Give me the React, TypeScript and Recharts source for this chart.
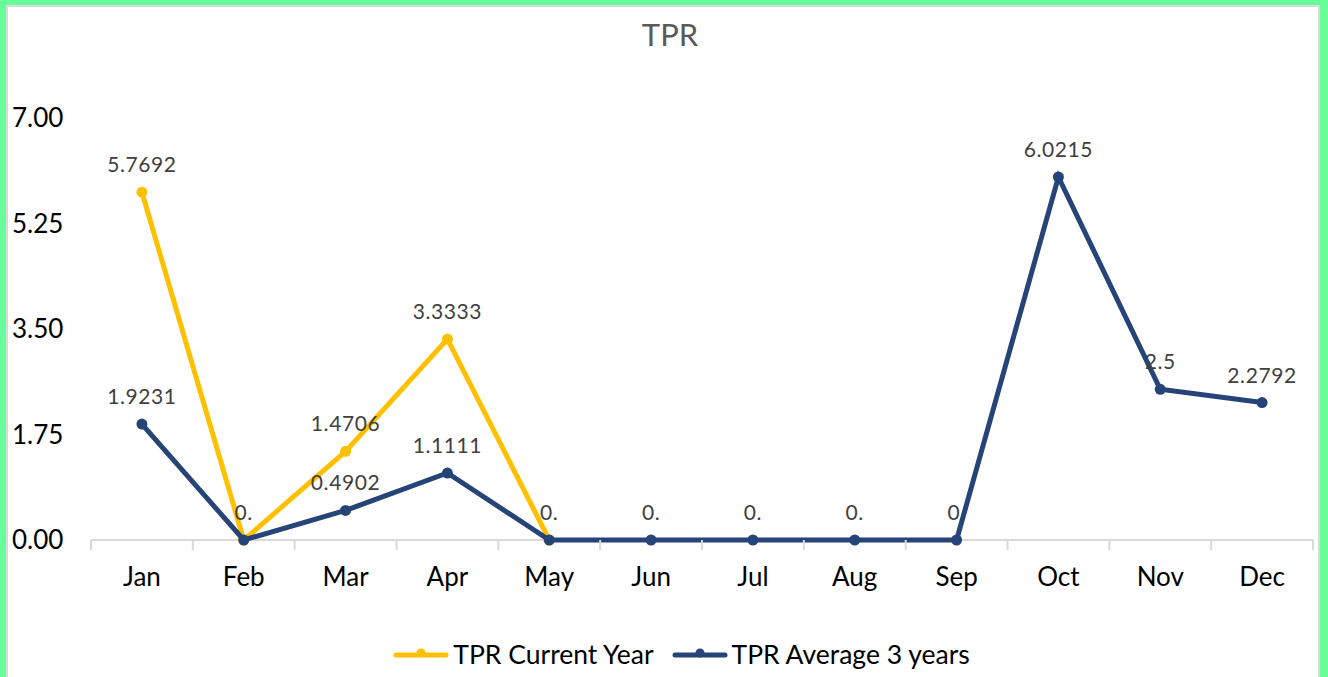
import { LineChart, Line, XAxis, YAxis, Legend, LabelList } from 'recharts';

const months = ['Jan', 'Feb', 'Mar', 'Apr', 'May', 'Jun', 'Jul', 'Aug', 'Sep', 'Oct', 'Nov', 'Dec'];
const currentYear: (number | null)[] = [5.7692, 0, 1.4706, 3.3333, 0, null, null, null, null, null, null, null];
const average3Years = [1.9231, 0, 0.4902, 1.1111, 0, 0, 0, 0, 0, 6.0215, 2.5, 2.2792];
const yTicks = [0, 1.75, 3.5, 5.25, 7];

const data = months.map((m, i) => ({ month: m, current: currentYear[i], average: average3Years[i] }));

const FONT = 'Lato, sans-serif';
const YELLOW = '#FFC000';
const BLUE = '#264478';
const W = 1328;
const H = 677;
const M = { top: 118, right: 15, bottom: 2, left: 11 };
const STEP = (W - M.left - M.right - 80) / months.length;

function fmt(v: any) {
  if (v === null || v === undefined) return '';
  return v === 0 ? '0.' : String(v);
}

// zero labels of the current year sit under the average's, so skip them
function fmtCurrent(v: any) {
  if (v === null || v === undefined || v === 0) return '';
  return String(v);
}

function XTick(props: any) {
  const { x, y, payload, index } = props;
  return (
    <g>
      <line x1={x - STEP / 2} y1={y - 8} x2={x - STEP / 2} y2={y + 2} stroke="#d9d9d9" strokeWidth={2} />
      {index === months.length - 1 && (
        <line x1={x + STEP / 2} y1={y - 8} x2={x + STEP / 2} y2={y + 2} stroke="#d9d9d9" strokeWidth={2} />
      )}
      <text x={x} y={y + 38} textAnchor="middle" fontSize={26} fill="#000" fontFamily={FONT}>
        {payload.value}
      </text>
    </g>
  );
}

function YTick(props: any) {
  const { y, payload } = props;
  return (
    <text x={12} y={y + 9} textAnchor="start" fontSize={26} fill="#000" fontFamily={FONT}>
      {payload.value.toFixed(2)}
    </text>
  );
}

function LegendContent() {
  const items = [
    { label: 'TPR Current Year', color: YELLOW },
    { label: 'TPR Average 3 years', color: BLUE },
  ];
  return (
    <div style={{ display: 'flex', justifyContent: 'center', gap: 18, fontFamily: FONT, fontSize: 26.5, color: '#000', paddingLeft: 39 }}>
      {items.map((it) => (
        <div key={it.label} style={{ display: 'flex', alignItems: 'center' }}>
          <svg width={56} height={14} style={{ marginRight: 4 }}>
            <line x1={3} y1={8} x2={53} y2={8} stroke={it.color} strokeWidth={5} strokeLinecap="round" />
            <circle cx={28} cy={6} r={4.5} fill={it.color} />
          </svg>
          <span>{it.label}</span>
        </div>
      ))}
    </div>
  );
}

export default function App() {
  return (
    <div style={{ position: 'fixed', left: 0, top: 0, width: W, height: H, background: '#66FF99', overflow: 'hidden' }}>
      <div
        style={{
          position: 'absolute',
          left: 6,
          top: 5,
          width: 1310,
          height: 690,
          background: '#fff',
          border: '2px solid #d9d9d9',
        }}
      />
      <div
        style={{
          position: 'absolute',
          left: 0,
          top: 15,
          width: W,
          paddingLeft: 6,
          textAlign: 'center',
          fontFamily: FONT,
          fontSize: 31,
          color: '#595959',
        }}
      >
        TPR
      </div>
      <div style={{ position: 'absolute', left: 0, top: 0 }}>
        <LineChart width={W} height={H} data={data} margin={M}>
          <XAxis
            dataKey="month"
            padding={{ left: STEP / 2, right: STEP / 2 }}
            axisLine={{ stroke: '#d9d9d9', strokeWidth: 2 }}
            tickLine={false}
            tick={<XTick />}
            height={98}
            interval={0}
          />
          <YAxis
            domain={[0, 7]}
            ticks={yTicks}
            axisLine={false}
            tickLine={false}
            tick={<YTick />}
            width={80}
          />
          <Legend verticalAlign="bottom" content={<LegendContent />} wrapperStyle={{ height: 37 }} />
          <Line
            type="linear"
            dataKey="current"
            stroke={YELLOW}
            strokeWidth={5}
            dot={{ r: 5.5, fill: YELLOW, stroke: YELLOW, strokeWidth: 0 }}
            isAnimationActive={false}
            zIndex={600}
          >
            <LabelList dataKey="current" position="top" offset={20} formatter={fmtCurrent} fontSize={21} letterSpacing={0.6} fill="#404040" fontFamily={FONT} />
          </Line>
          <Line
            type="linear"
            dataKey="average"
            stroke={BLUE}
            strokeWidth={5}
            dot={{ r: 5.5, fill: BLUE, stroke: BLUE, strokeWidth: 0 }}
            isAnimationActive={false}
            zIndex={601}
          >
            <LabelList dataKey="average" position="top" offset={20} formatter={fmt} fontSize={21} letterSpacing={0.6} fill="#404040" fontFamily={FONT} />
          </Line>
        </LineChart>
      </div>
    </div>
  );
}
